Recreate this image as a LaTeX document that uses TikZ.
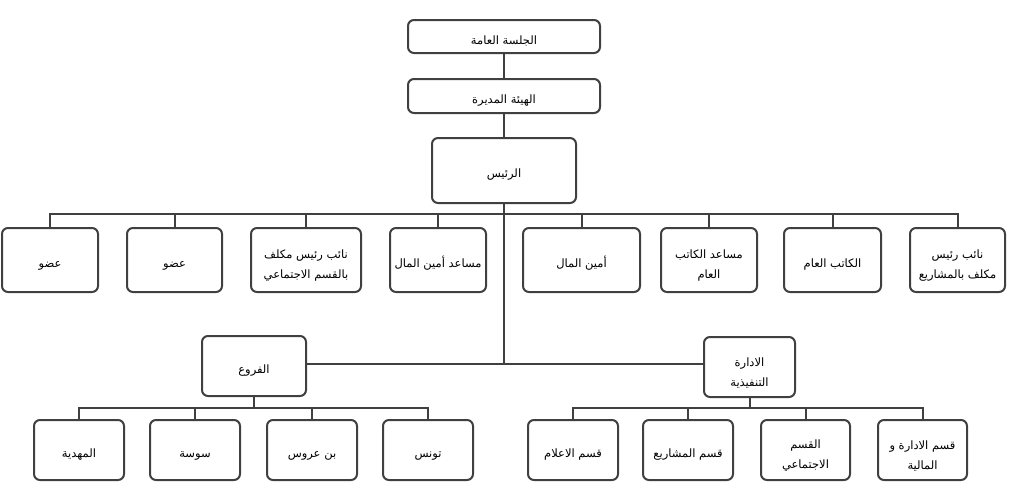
\documentclass[tikz,border=0pt]{standalone}
\usepackage{fontspec}
\newfontfamily\arabicfont[Script=Arabic]{DejaVu Sans}
\TeXXeTstate=1
\newcommand{\artext}[1]{\beginR #1\endR}
\newcommand{\twostrut}{\rule{0pt}{20pt}}
\begin{document}
\begin{tikzpicture}[x=1pt,y=-1pt,
  linec/.style={draw=black!75, line width=2pt},
  box/.style={linec, rounded corners=6pt, fill=white, inner sep=0pt, align=center,
     font=\arabicfont\fontsize{11.5}{20}\selectfont},
  one/.style={execute at begin node={\rule{0pt}{17pt}}},
  wide/.style={box, one, minimum width=192pt, minimum height=33pt},
  mem/.style={box, minimum height=64pt},
  low/.style={box, minimum width=90pt, minimum height=60pt}]
\useasboundingbox (0,0) rectangle (1013,482);
% top
\node[wide] (ga) at (504,36.5) {\beginR الجلسة العامة\endR};
\node[wide, minimum height=34pt] (hm) at (504,96) {\beginR الهيئة المديرة\endR};
\node[box, one, minimum width=144pt, minimum height=65pt] (pr) at (504,170.5) {\beginR الرئيس\endR};
% row of members
\node[mem, one, minimum width=96pt] (m1) at (50,260) {\beginR عضو\endR};
\node[mem, one, minimum width=95pt] (m2) at (174.5,260) {\beginR عضو\endR};
\node[mem, minimum width=110pt] (vsoc) at (306,260) {\twostrut\beginR نائب رئيس مكلف\endR\\\beginR بالقسم الاجتماعي\endR};
\node[mem, one, minimum width=96pt] (atr) at (438,260) {\beginR مساعد أمين المال\endR};
\node[mem, one, minimum width=117pt] (tr) at (581.5,260) {\beginR أمين المال\endR};
\node[mem, minimum width=96pt] (asec) at (709,260) {\twostrut\beginR مساعد الكاتب\endR\\\beginR العام\endR};
\node[mem, one, minimum width=97pt] (sec) at (832.5,260) {\beginR الكاتب العام\endR};
\node[mem, minimum width=95pt] (vproj) at (957.5,260) {\twostrut\beginR نائب رئيس\endR\\\beginR مكلف بالمشاريع\endR};
% middle
\node[box, one, minimum width=104pt, minimum height=60pt] (fr) at (254,366) {\beginR الفروع\endR};
\node[box, minimum width=91pt, minimum height=60pt] (ie) at (749.5,367) {\twostrut\beginR الادارة\endR\\\beginR التنفيذية\endR};
% bottom left
\node[low, one] (mah) at (79,450) {\beginR المهدية\endR};
\node[low, one] (sus) at (195,450) {\beginR سوسة\endR};
\node[low, one] (ben) at (312,450) {\beginR بن عروس\endR};
\node[low, one] (tun) at (428,450) {\beginR تونس\endR};
% bottom right
\node[low, one] (ilam) at (573,450) {\beginR قسم الاعلام\endR};
\node[low, one] (proj) at (688,450) {\beginR قسم المشاريع\endR};
\node[low, minimum width=89pt] (soc) at (805.5,450) {\twostrut\beginR القسم\endR\\\beginR الاجتماعي\endR};
\node[low, minimum width=89pt] (adm) at (922.5,450) {\twostrut\beginR قسم الادارة و\endR\\\beginR المالية\endR};
% coordinates
\coordinate (bus) at (504,214);
\coordinate (jc) at (504,364);
\coordinate (lb) at (0,408);
% connectors
\draw[linec] (ga.south) -- (hm.north);
\draw[linec] (hm.south) -- (pr.north);
\draw[linec] (pr.south) -- (jc);
\draw[linec] (m1.north) |- (bus -| vproj.north) -- (vproj.north);
\foreach \n in {m2,vsoc,atr,tr,asec,sec}{
  \draw[linec] (\n.north) -- (\n.north |- bus);
}
\draw[linec] (fr.east |- jc) -- (ie.west |- jc);
\draw[linec] (fr.south) -- (fr.south |- lb);
\draw[linec] (mah.north) |- (lb -| tun.north) -- (tun.north);
\draw[linec] (sus.north) -- (sus.north |- lb);
\draw[linec] (ben.north) -- (ben.north |- lb);
\draw[linec] (ie.south) -- (ie.south |- lb);
\draw[linec] (ilam.north) |- (lb -| adm.north) -- (adm.north);
\draw[linec] (proj.north) -- (proj.north |- lb);
\draw[linec] (soc.north) -- (soc.north |- lb);
\end{tikzpicture}
\end{document}
